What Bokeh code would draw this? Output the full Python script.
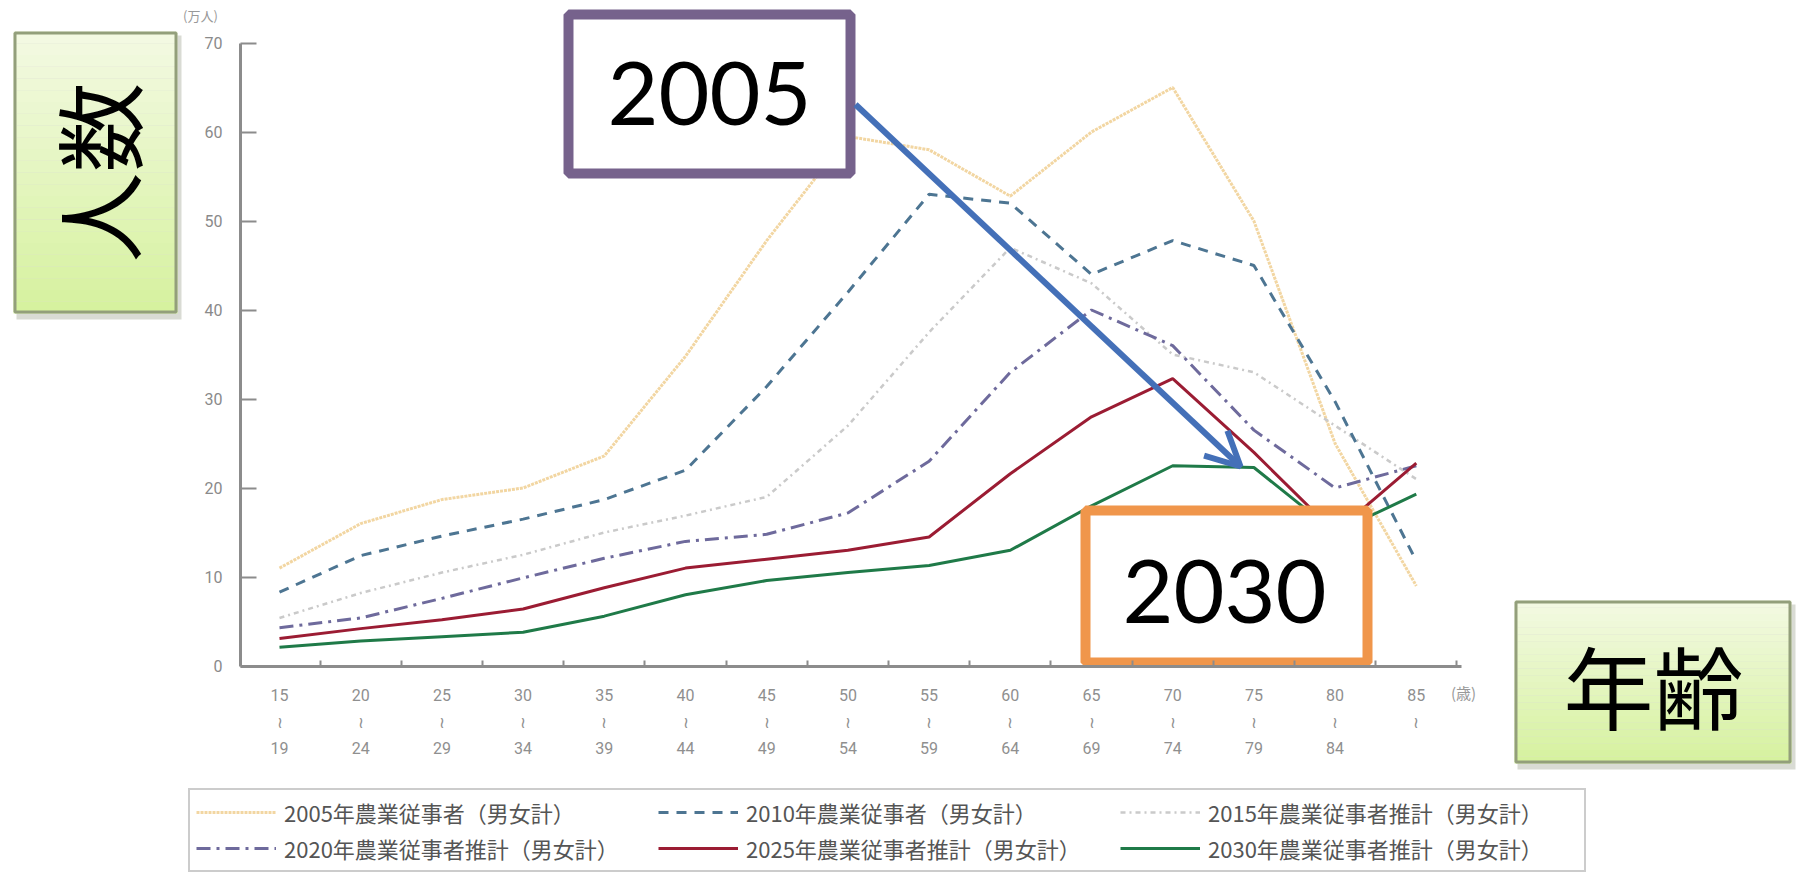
import numpy as np
from bokeh.plotting import figure
from bokeh.models import Range1d, LinearAxis, FixedTicker, Legend, LegendItem, Arrow, OpenHead
from bokeh.core.properties import value
from bokeh.embed import file_html
from bokeh.resources import INLINE

# ---- data: farm workers by age group (万人) ----
age_start = [15, 20, 25, 30, 35, 40, 45, 50, 55, 60, 65, 70, 75, 80, 85]
age_tick_labels = ["15\n≀\n19", "20\n≀\n24", "25\n≀\n29", "30\n≀\n34", "35\n≀\n39",
                   "40\n≀\n44", "45\n≀\n49", "50\n≀\n54", "55\n≀\n59", "60\n≀\n64",
                   "65\n≀\n69", "70\n≀\n74", "75\n≀\n79", "80\n≀\n84", "85\n≀"]
y_ticks = [0, 10, 20, 30, 40, 50, 60, 70]

workers_2005 = [11.0, 16.0, 18.7, 20.0, 23.6, 34.8, 47.8, 59.5, 58.0, 52.8, 60.0, 65.0, 50.0, 25.0, 9.0]
workers_2010 = [8.3, 12.4, 14.6, 16.5, 18.7, 22.0, 31.4, 42.0, 53.0, 52.0, 44.0, 47.8, 45.0, 29.7, 11.8]
workers_2015 = [5.4, 8.2, 10.5, 12.5, 15.0, 16.9, 19.0, 27.0, 37.5, 47.0, 43.0, 35.0, 33.0, 27.0, 21.0]
workers_2020 = [4.3, 5.4, 7.6, 9.9, 12.1, 14.0, 14.8, 17.2, 23.0, 33.0, 40.0, 36.0, 26.5, 20.0, 22.5]
workers_2025 = [3.1, 4.2, 5.2, 6.4, 8.8, 11.0, 12.0, 13.0, 14.5, 21.6, 28.0, 32.3, 24.0, 15.0, 22.8]
workers_2030 = [2.1, 2.8, 3.3, 3.8, 5.6, 8.0, 9.6, 10.5, 11.3, 13.0, 18.0, 22.5, 22.3, 15.0, 19.3]

series_labels = ["2005年農業従事者（男女計）", "2010年農業従事者（男女計）",
                 "2015年農業従事者推計（男女計）", "2020年農業従事者推計（男女計）",
                 "2025年農業従事者推計（男女計）", "2030年農業従事者推計（男女計）"]

# ---- canvas geometry: the frame covers the whole page, axes sit at fixed locations ----
W, H = 1798, 881
PX_AGE15, PX_PER_YEAR = 279.0, 81.2 / 5
PX_ZERO, PX_PER_UNIT = 665.5, 8.9


def dx(px):
    return 15 + (px - PX_AGE15) / PX_PER_YEAR


def dy(py):
    return (PX_ZERO - py) / PX_PER_UNIT


p = figure(width=W, height=H, output_backend="svg", toolbar_location=None,
           x_range=Range1d(dx(0), dx(W)), y_range=Range1d(dy(H), dy(0)),
           x_axis_type=None, y_axis_type=None, min_border=0)
p.outline_line_color = None
p.background_fill_color = "white"
p.border_fill_color = "white"

CJK = "Noto Sans CJK JP"
AX_GREY = "#8c8c8c"

# y axis
yaxis = LinearAxis(fixed_location=dx(240), bounds=(0, 70),
                   ticker=FixedTicker(ticks=y_ticks))
yaxis.axis_line_color = AX_GREY
yaxis.axis_line_width = 3
yaxis.major_tick_in = 16
yaxis.major_tick_out = 0
yaxis.major_tick_line_color = AX_GREY
yaxis.major_tick_line_width = 2
yaxis.minor_tick_line_color = None
yaxis.major_label_standoff = 18
yaxis.major_label_text_font = "Roboto"
yaxis.major_label_text_font_size = "16px"
yaxis.major_label_text_color = "#8a8a8a"
p.add_layout(yaxis, "left")

# x axis line with ticks at the age-band boundaries
bounds_ticks = [a + 2.5 for a in age_start]
xaxis = LinearAxis(fixed_location=0, bounds=(dx(240), dx(1461)),
                   ticker=FixedTicker(ticks=bounds_ticks))
xaxis.axis_line_color = AX_GREY
xaxis.axis_line_width = 3
xaxis.major_tick_in = 6
xaxis.major_tick_out = 0
xaxis.major_tick_line_color = AX_GREY
xaxis.major_tick_line_width = 2
xaxis.minor_tick_line_color = None
xaxis.major_label_text_color = None
p.add_layout(xaxis, "below")

# age-band labels under each band centre
xlabels = LinearAxis(fixed_location=0, ticker=FixedTicker(ticks=age_start),
                     major_label_overrides={a: t for a, t in zip(age_start, age_tick_labels)})
xlabels.axis_line_color = None
xlabels.major_tick_line_color = None
xlabels.minor_tick_line_color = None
xlabels.major_label_standoff = 14
xlabels.major_label_text_font = "Roboto"
xlabels.major_label_text_font_size = "16px"
xlabels.major_label_text_color = "#8f8f8f"
xlabels.major_label_text_line_height = 1.4
p.add_layout(xlabels, "below")

p.text(x=[dx(200)], y=[dy(15)], text=["(万人)"], text_font=value(CJK),
       text_font_size=value("13px"), text_color="#999999",
       text_align="center", text_baseline="middle")
p.text(x=[dx(1463)], y=[dy(692)], text=["(歳)"], text_font=value(CJK),
       text_font_size=value("15px"), text_color="#999999",
       text_align="center", text_baseline="middle")

# ---- series ----
r05 = p.line(age_start, workers_2005, line_color="#f2d6a2", line_width=3, line_dash="3 1")
r15 = p.line(age_start, workers_2015, line_color="#cacaca", line_width=2.5, line_dash="5 4 2 4")
r10 = p.line(age_start, workers_2010, line_color="#4d7592", line_width=3, line_dash="10 8")
r20 = p.line(age_start, workers_2020, line_color="#6e6a9c", line_width=3, line_dash="14 6 3 6")
r25 = p.line(age_start, workers_2025, line_color="#9b1c33", line_width=3)
r30 = p.line(age_start, workers_2030, line_color="#1f7a48", line_width=3)


def frame_box(l, t, r, b, line_color, line_width, fill="white"):
    h = line_width / 2
    p.quad(left=[dx(l + h)], right=[dx(r - h)], top=[dy(t + h)], bottom=[dy(b - h)],
           fill_color=fill, line_color=line_color, line_width=line_width)


def green_box(l, t, r, b):
    # soft drop shadow
    p.quad(left=[dx(l + 3)], right=[dx(r + 4)], top=[dy(t + 4)], bottom=[dy(b + 6)],
           fill_color="#b9bdb0", fill_alpha=0.55, line_color=None)
    # vertical gradient from pale to light green
    top_c = np.array([244, 250, 228])
    bot_c = np.array([214, 242, 158])
    n = 24
    edges = np.linspace(t, b, n + 1)
    for i in range(n):
        c = top_c + (bot_c - top_c) * (i + 0.5) / n
        p.quad(left=[dx(l)], right=[dx(r)], top=[dy(edges[i])], bottom=[dy(edges[i + 1])],
               fill_color="#%02x%02x%02x" % tuple(int(v) for v in c), line_color=None)
    p.quad(left=[dx(l + 1.5)], right=[dx(r - 1.5)], top=[dy(t + 1.5)], bottom=[dy(b - 1.5)],
           fill_color=None, line_color="#939f7b", line_width=3)


# callout boxes
frame_box(563, 9, 855, 178, "#76628c", 10)
p.text(x=[dx(709)], y=[dy(93)], text=["2005"], text_font=value("Lato"),
       text_font_size=value("88px"), text_color="black",
       text_align="center", text_baseline="middle")

frame_box(1080, 505, 1372, 667, "#f0964b", 10)
p.text(x=[dx(1224)], y=[dy(591)], text=["2030"], text_font=value("Lato"),
       text_font_size=value("88px"), text_color="black",
       text_align="center", text_baseline="middle")

green_box(13, 31, 177, 313)
p.text(x=[dx(95)], y=[dy(172)], text=["人数"], text_font=value(CJK),
       text_font_size=value("90px"), text_color="black", angle=np.pi / 2,
       text_align="center", text_baseline="middle")

green_box(1514, 600, 1791, 763)
p.text(x=[dx(1653)], y=[dy(683)], text=["年齢"], text_font=value(CJK),
       text_font_size=value("90px"), text_color="black",
       text_align="center", text_baseline="middle")

p.add_layout(Arrow(end=OpenHead(size=34, line_color="#4470b8", line_width=6),
                   x_start=dx(855), y_start=dy(104), x_end=dx(1240), y_end=dy(466),
                   line_color="#4470b8", line_width=6))

# ---- legend ----
legend = Legend(items=[LegendItem(label=lab, renderers=[r]) for lab, r in
                       zip(series_labels, [r05, r10, r15, r20, r25, r30])],
                location=(188, 9), orientation="horizontal", ncols=3)
legend.label_text_font = CJK
legend.label_text_font_size = "22px"
legend.label_text_color = "#555555"
legend.glyph_width = 80
legend.glyph_height = 22
legend.label_standoff = 8
legend.label_width = 370
legend.spacing = 4
legend.padding = 6
legend.margin = 0
legend.border_line_color = "#9a9a9a"
legend.border_line_width = 2
legend.background_fill_color = "white"
legend.background_fill_alpha = 1.0
p.add_layout(legend)

open("out.html", "w").write(file_html(p, INLINE))
